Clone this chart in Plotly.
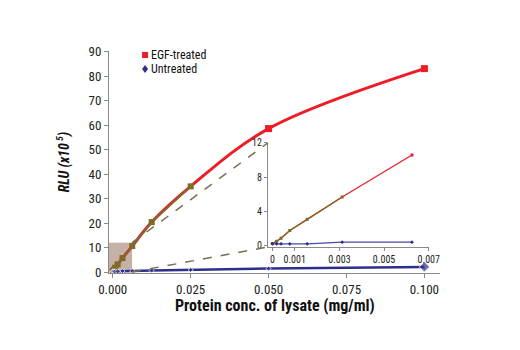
import plotly.graph_objects as go

# ---- data ----
conc = [0, 0.000195, 0.00039, 0.00078, 0.00156, 0.003125, 0.00625, 0.0125, 0.025, 0.05, 0.1]
egf_treated = [0.3, 0.55, 0.9, 1.8, 3.1, 5.7, 10.6, 20.4, 35.0, 58.6, 83.1]
untreated = [0.25, 0.25, 0.25, 0.25, 0.25, 0.45, 0.45, 0.6, 0.9, 1.4, 2.1]
series_names = ["EGF-treated", "Untreated"]

main_x_ticks = [0, 0.025, 0.05, 0.075, 0.1]
main_x_labels = ["0.000", "0.025", "0.050", "0.075", "0.100"]
main_y_ticks = [0, 10, 20, 30, 40, 50, 60, 70, 80, 90]
inset_x_ticks = [0, 0.001, 0.003, 0.005, 0.007]
inset_x_labels = ["0", "0.001", "0.003", "0.005", "0.007"]
inset_y_ticks = [0, 4, 8, 12]

# ---- style ----
RED = "#ee1c25"
OLIVE = "#7f6a2a"
BLUE = "#2e2e8c"
AX = "#8a8a8a"
FONT = "Roboto Condensed, DejaVu Sans Condensed, Liberation Sans, Arial, sans-serif"

XR = [-0.0012, 0.105]
YR = [-0.4, 90.3]
IXR = [-0.0002, 0.007]
IYR = [-0.12, 12]
INSET_DX = [0.48, 0.966]
INSET_DY = [0.117, 0.586]
BOX_X = [-0.0012, 0.0062]
BOX_Y = [0, 12]

n_olive = 9  # points drawn in the darker overlay colour (0 .. 0.025)

fig = go.Figure()

# main: red smooth curve
fig.add_trace(go.Scatter(x=conc, y=egf_treated, mode="lines", line=dict(color=RED, width=3, shape="spline"),
                         name=series_names[0], showlegend=False, hoverinfo="skip"))
# olive overlay on low part
fig.add_trace(go.Scatter(x=conc[:n_olive], y=egf_treated[:n_olive], mode="lines+markers",
                         line=dict(color=OLIVE, width=2), marker=dict(symbol="square", size=6, color=OLIVE),
                         showlegend=False))
fig.add_trace(go.Scatter(x=conc[n_olive:], y=egf_treated[n_olive:], mode="markers",
                         marker=dict(symbol="square", size=7, color=RED), showlegend=False))
# untreated main
fig.add_trace(go.Scatter(x=conc, y=untreated, mode="lines+markers", line=dict(color=BLUE, width=2.5),
                         marker=dict(symbol="diamond", size=[4] * (len(conc) - 1) + [8], color=BLUE),
                         name=series_names[1], showlegend=False))

# inset
fig.add_trace(go.Scatter(x=conc[:7], y=egf_treated[:7], mode="lines", line=dict(color=RED, width=1.3),
                         xaxis="x2", yaxis="y2", showlegend=False))
fig.add_trace(go.Scatter(x=conc[:6], y=egf_treated[:6], mode="lines+markers", line=dict(color=OLIVE, width=1.3),
                         marker=dict(symbol="square", size=3, color=OLIVE),
                         xaxis="x2", yaxis="y2", showlegend=False))
fig.add_trace(go.Scatter(x=conc[6:7], y=egf_treated[6:7], mode="markers", marker=dict(symbol="square", size=3, color=RED),
                         xaxis="x2", yaxis="y2", showlegend=False))
fig.add_trace(go.Scatter(x=conc[:7], y=untreated[:7], mode="lines+markers", line=dict(color="#4a4aa8", width=1.3),
                         marker=dict(symbol="diamond", size=3, color=BLUE),
                         xaxis="x2", yaxis="y2", showlegend=False))

# highlight box
fig.add_shape(type="rect", xref="x", yref="y", x0=BOX_X[0], x1=BOX_X[1], y0=BOX_Y[0], y1=BOX_Y[1],
              fillcolor="rgba(140,100,80,0.5)", line=dict(width=0), layer="below")

# connectors (paper coords derived from axis ranges)
def px(v):
    return (v - XR[0]) / (XR[1] - XR[0])

def py(v):
    return (v - YR[0]) / (YR[1] - YR[0])

fig.add_shape(type="line", xref="paper", yref="paper", x0=px(BOX_X[1]), y0=py(BOX_Y[1]),
              x1=INSET_DX[0], y1=INSET_DY[1], line=dict(color="#7a6c55", width=1.5, dash="dash"))
fig.add_shape(type="line", xref="paper", yref="paper", x0=px(BOX_X[1]), y0=py(BOX_Y[0]),
              x1=INSET_DX[0], y1=INSET_DY[0], line=dict(color="#7a6c55", width=1.5, dash="dash"))

# legend (custom, compact rows)
LEG_X = 0.109
LEG_Y = [0.982, 0.919]
fig.add_shape(type="rect", xref="paper", yref="paper", xsizemode="pixel", ysizemode="pixel",
              xanchor=LEG_X, yanchor=LEG_Y[0], x0=-3, x1=3, y0=-3, y1=3,
              fillcolor=RED, line=dict(width=0))
fig.add_shape(type="path", xref="paper", yref="paper", xsizemode="pixel", ysizemode="pixel",
              xanchor=LEG_X, yanchor=LEG_Y[1], path="M 0 -4 L 3 0 L 0 4 L -3 0 Z",
              fillcolor=BLUE, line=dict(width=0))
for name, yy in zip(series_names, LEG_Y):
    fig.add_annotation(text=name, xref="paper", yref="paper", x=LEG_X + 0.012, y=yy,
                       xanchor="left", yanchor="middle", showarrow=False,
                       font=dict(size=12, color="#111"))

# x-axis title (placed as annotation for exact vertical position)
fig.add_annotation(text="<b>Protein conc. of lysate (mg/ml)</b>", xref="paper", yref="paper",
                   x=0.5, y=-0.146, xanchor="center", yanchor="middle", showarrow=False,
                   font=dict(size=16, color="#111"))

axis_common = dict(showgrid=False, zeroline=False, showline=True, linecolor=AX, linewidth=1,
                   ticks="outside", tickcolor=AX, ticklen=4)

fig.update_layout(
    width=520, height=350,
    margin=dict(l=109, r=80, t=51, b=77),
    paper_bgcolor="white", plot_bgcolor="rgba(0,0,0,0)",
    font=dict(family=FONT, size=12, color="#222"),
    showlegend=False,
    xaxis=dict(range=XR, tickvals=main_x_ticks, ticktext=main_x_labels, tickfont=dict(size=13),
               **axis_common),
    yaxis=dict(range=YR, tickvals=main_y_ticks, tickfont=dict(size=13),
               title=dict(text="<b><i>RLU (x10<sup> 5</sup>)</i></b>", font=dict(size=14, color="#111"), standoff=15),
               **axis_common),
    xaxis2=dict(domain=INSET_DX, anchor="y2", range=IXR, tickvals=inset_x_ticks, ticktext=inset_x_labels,
                tickfont=dict(size=10), **{**axis_common, "ticklen": 3}),
    yaxis2=dict(domain=INSET_DY, anchor="x2", range=IYR, tickvals=inset_y_ticks,
                tickfont=dict(size=10), **{**axis_common, "ticklen": 3}),
)

fig.write_html("out.html")
